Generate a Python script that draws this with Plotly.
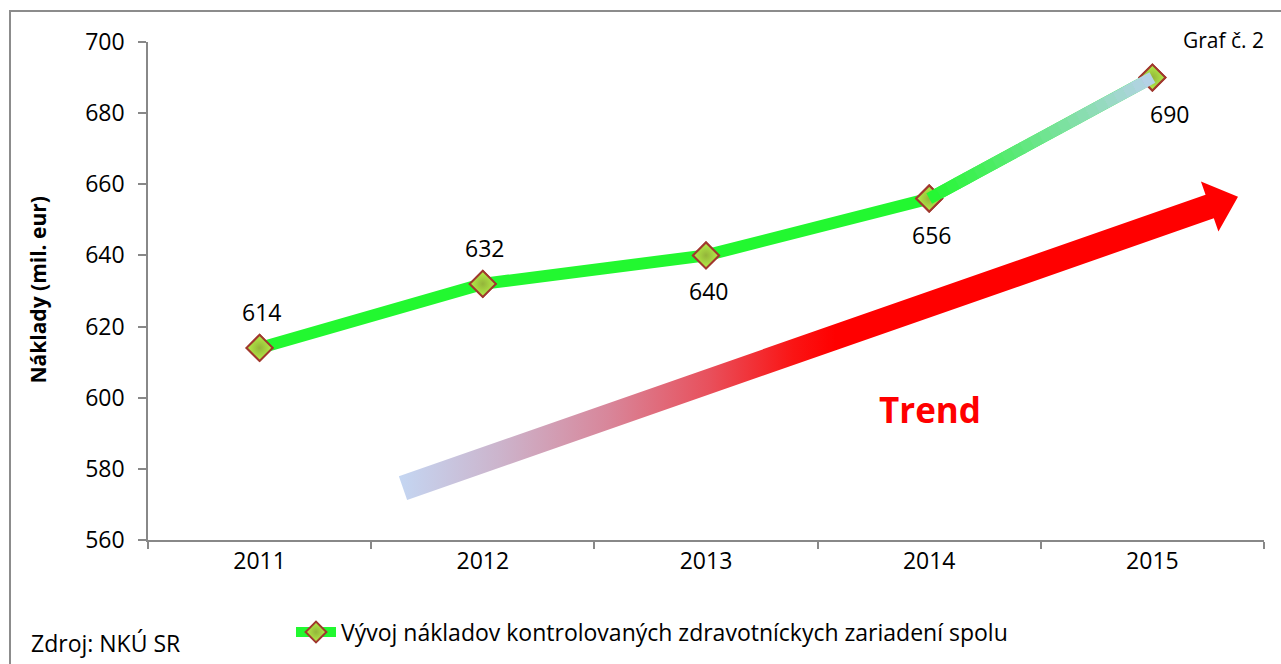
import numpy as np
import plotly.graph_objects as go

# ---- data ----
years = ["2011", "2012", "2013", "2014", "2015"]
costs = [614, 632, 640, 656, 690]
label_side = [1, 1, -1, -1, -1]          # label above (+1) or below (-1)
y_ticks = [560, 580, 600, 620, 640, 660, 680, 700]
series_name = "Vývoj nákladov kontrolovaných zdravotníckych zariadení spolu"
y_title = "Náklady (mil. eur)"

FONT = "Open Sans"
AXIS_COL = "#888888"
GREEN = "#22f830"

# plot area in pixels (for the decorative overlay)
L, R, T, B = 148, 1264, 42, 541
W, H = 1281, 664

MARKER = dict(symbol="diamond", size=20, color="#b4f048",
              gradient=dict(type="radial", color="#94b43a"),
              line=dict(color="#a0382e", width=2))

fig = go.Figure()

# ---- decorative trend arrow (pixel overlay axes) ----
tail = np.array([403.0, 489.0])
tip = np.array([1238.0, 197.0])
u = (tip - tail) / np.linalg.norm(tip - tail)
nrm = np.array([-u[1], u[0]])
w_shaft, w_head, head_len = 12.5, 26.5, 30.0
base = tip - head_len * u
poly = np.array([tail - w_shaft * nrm, base - w_shaft * nrm, base - w_head * nrm, tip,
                 base + w_head * nrm, base + w_shaft * nrm, tail + w_shaft * nrm,
                 tail - w_shaft * nrm])
fig.add_trace(go.Scatter(
    x=poly[:, 0], y=poly[:, 1], xaxis="x2", yaxis="y2",
    mode="lines", line=dict(width=0, color="rgba(0,0,0,0)"),
    fill="toself",
    fillgradient=dict(type="horizontal",
                      colorscale=[[0, "#c4d6f2"], [0.12, "#ccb4cc"], [0.25, "#d8869a"],
                                  [0.37, "#e8505c"], [0.47, "#fa1414"], [0.52, "#ff0000"],
                                  [1, "#ff0000"]]),
    showlegend=False, hoverinfo="skip",
))

# main series (line + markers, used for the legend)
fig.add_trace(go.Scatter(
    x=years, y=costs, mode="lines+markers", name=series_name,
    line=dict(color=GREEN, width=12), marker=MARKER, hoverinfo="x+y",
))

# gradient on the last segment (green -> light blue), decorative
n_pieces = 24
c0 = np.array([0x22, 0xf8, 0x30])
c1 = np.array([0xb8, 0xd2, 0xea])
x_idx = np.arange(len(years), dtype=float)
xa, xb = x_idx[-2], x_idx[-1]
ya, yb = costs[-2], costs[-1]
for i in range(n_pieces):
    t0 = i / n_pieces
    t1 = min((i + 1.05) / n_pieces, 1.0)
    c = c0 + (c1 - c0) * (t0 + t1) / 2
    fig.add_trace(go.Scatter(
        x=[xa + (xb - xa) * t0, xa + (xb - xa) * t1],
        y=[ya + (yb - ya) * t0, ya + (yb - ya) * t1],
        xaxis="x3", yaxis="y",
        mode="lines", line=dict(color="rgb(%d,%d,%d)" % tuple(c.astype(int)), width=12),
        showlegend=False, hoverinfo="skip",
    ))

# markers drawn again on top
fig.add_trace(go.Scatter(
    x=years, y=costs, mode="markers", showlegend=False, marker=MARKER, hoverinfo="skip",
))

annotations = []
for i, (v, s) in enumerate(zip(costs, label_side)):
    annotations.append(dict(
        x=i, y=v, xref="x3", yref="y", text=str(v), showarrow=False, yshift=36 * s,
        xanchor="center", yanchor="middle",
        xshift=17 if i == len(costs) - 1 else 2,
        font=dict(family=FONT, size=23, color="#000000"),
    ))

annotations += [
    dict(x=(38 - L) / (R - L), y=(B - 291) / (B - T), xref="paper", yref="paper",
         xanchor="center", yanchor="middle",
         text="<b>" + y_title + "</b>", textangle=-90, showarrow=False,
         font=dict(family=FONT, size=21, color="#000000")),
    dict(x=(930 - L) / (R - L), y=(B - 410) / (B - T), xref="paper", yref="paper",
         xanchor="center", yanchor="middle",
         text="<b>Trend</b>", showarrow=False,
         font=dict(family=FONT, size=35, color="#ff0000")),
    dict(x=(1266 - L) / (R - L), y=(B - 40) / (B - T), xref="paper", yref="paper",
         xanchor="right", yanchor="middle", text="Graf č. 2", showarrow=False,
         font=dict(family=FONT, size=21, color="#000000")),
    dict(x=(29 - L) / (R - L), y=(B - 644) / (B - T), xref="paper", yref="paper",
         xanchor="left", yanchor="middle", text="Zdroj: NKÚ SR", showarrow=False,
         font=dict(family=FONT, size=23, color="#000000")),
]

fig.update_layout(
    width=W, height=H,
    margin=dict(l=L, r=W - R, t=T, b=H - B, pad=0),
    paper_bgcolor="white", plot_bgcolor="white",
    font=dict(family=FONT, size=20, color="#000000"),
    showlegend=True,
    legend=dict(orientation="h", x=(652 - L) / (R - L), xanchor="center",
                y=(B - 632) / (B - T), yanchor="middle",
                font=dict(family=FONT, size=23, color="#000000"),
                bgcolor="rgba(0,0,0,0)", itemwidth=40),
    xaxis=dict(type="category", range=[-0.5, 4.5], showgrid=False, zeroline=False,
               showline=True, linecolor=AXIS_COL, linewidth=1.5,
               ticks="outside", tickcolor=AXIS_COL, ticklen=7, tickwidth=1.5,
               tickson="boundaries", tickfont=dict(family=FONT, size=23),
               fixedrange=True),
    xaxis2=dict(overlaying="x", range=[L, R], visible=False, fixedrange=True),
    xaxis3=dict(overlaying="x", range=[-0.5, 4.5], visible=False, fixedrange=True),
    yaxis=dict(range=[560, 700], tickvals=y_ticks, showgrid=False, zeroline=False,
               showline=True, linecolor=AXIS_COL, linewidth=1.5,
               ticks="outside", tickcolor=AXIS_COL, ticklen=8, tickwidth=1.5,
               tickfont=dict(family=FONT, size=23), ticklabelstandoff=9,
               fixedrange=True),
    yaxis2=dict(overlaying="y", range=[B, T], visible=False, fixedrange=True),
    annotations=annotations,
    shapes=[dict(type="rect", xref="paper", yref="paper",
                 x0=(10 - L) / (R - L), x1=1.2, y0=-0.5, y1=(B - 11) / (B - T),
                 line=dict(color="#8c8c8c", width=2), fillcolor="rgba(0,0,0,0)",
                 layer="below")],
)

fig.write_html("out.html", config={"displayModeBar": False},
               post_script="document.body.style.margin='0px';document.body.style.overflow='hidden';")
